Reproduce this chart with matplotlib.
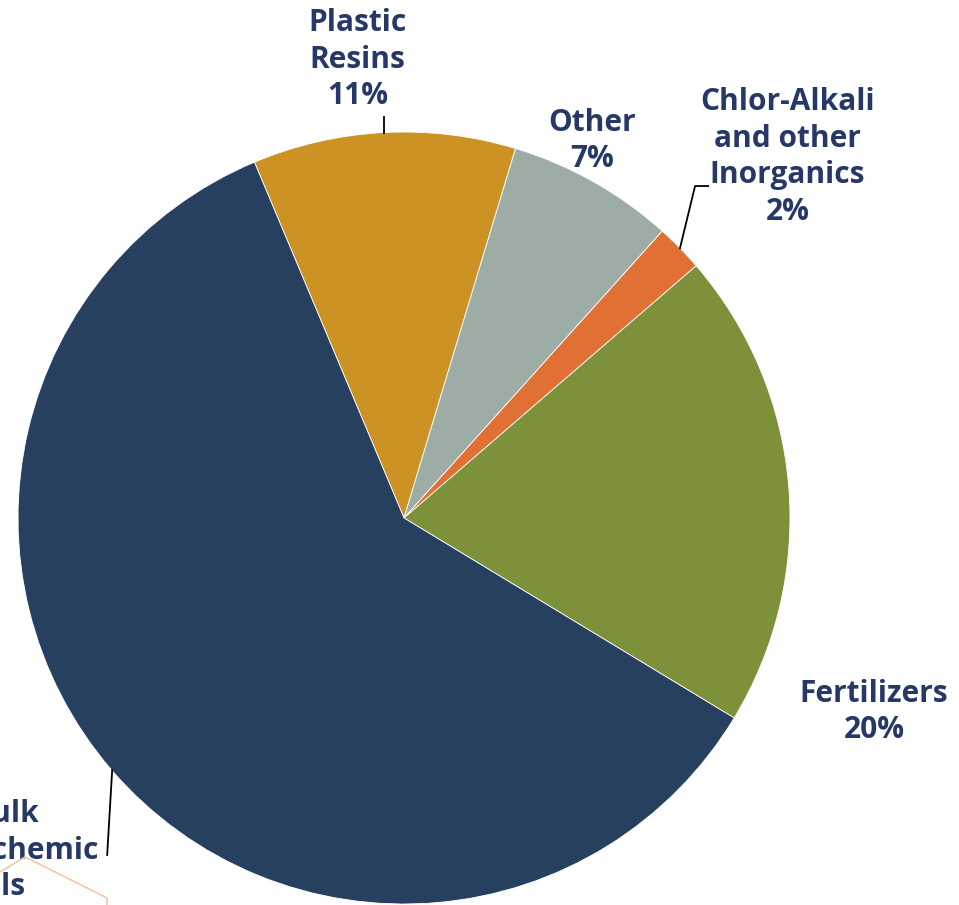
import matplotlib
matplotlib.use("Agg")
import matplotlib.pyplot as plt
from matplotlib.lines import Line2D

# data (clockwise from the top-left edge)
labels = ["Plastic\nResins", "Other", "Chlor-Alkali\nand other\nInorganics", "Fertilizers", "Bulk\nPetrochemic\nals"]
shares = [11, 7, 2, 20, 60]
colors = ["#cc9324", "#9dada6", "#e07034", "#7d913b", "#27405f"]

text_color = "#253868"
W, H = 959, 905
fig = plt.figure(figsize=(W / 100, H / 100), dpi=100)
fig.patch.set_facecolor("white")

# pie centre (404, 518) px, radius 386 px
cx, cy, r = 404, 518, 386
ax = fig.add_axes([(cx - r) / W, (H - cy - r) / H, 2 * r / W, 2 * r / H])
ax.pie(shares, colors=colors, startangle=112.8, counterclock=False, radius=1,
       wedgeprops=dict(edgecolor="white", linewidth=0.6))
ax.set_xlim(-1, 1)
ax.set_ylim(-1, 1)
ax.set_aspect("auto")
ax.axis("off")

# label positions (data units)
label_pos = [(-0.120, 1.187), (0.487, 0.977), (0.993, 0.935), (1.218, -0.503), (-1.034, -0.909)]
for lab, val, (x, y) in zip(labels, shares, label_pos):
    ax.text(x, y, f"{lab}\n{val}%", ha="center", va="center", fontsize=21.5,
            fontfamily="Open Sans", fontweight="bold", color=text_color,
            linespacing=1.29, clip_on=False)

# leader lines
leaders = [
    [(-0.052, 1.039), (-0.052, 0.997)],
    [(0.715, 0.699), (0.754, 0.860), (0.788, 0.860)],
    [(-0.756, -0.653), (-0.769, -0.873)],
]
for pts in leaders:
    xs, ys = zip(*pts)
    ax.plot(xs, ys, color="black", linewidth=1.3, clip_on=False)

# faint outline of a shape in the lower-left corner
px = [0, 25, 107, 107]
py = [872, 857, 898, 905]
fig.add_artist(Line2D([p / W for p in px], [1 - p / H for p in py],
                      color="#f2c6ad", linewidth=1.2))

fig.savefig("out.png", dpi=100)
